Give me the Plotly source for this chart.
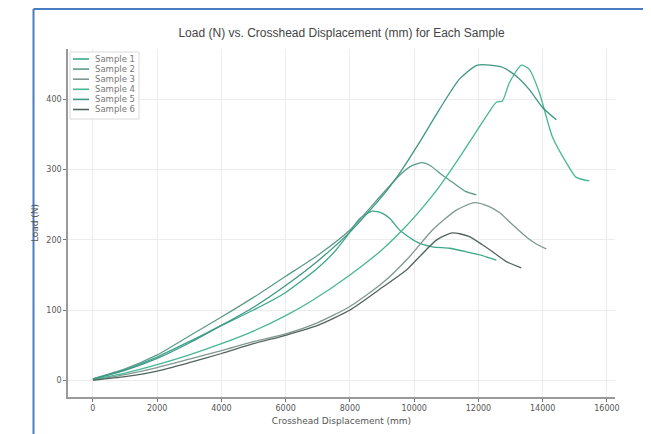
import plotly.graph_objects as go

# ---- data (displacement in mm, load in N) ----
s1_x = [0, 1000, 2000, 3000, 4000, 5000, 6000, 7000, 7500, 7900, 8300, 8700, 9000, 9250, 9543, 10072, 10569, 11097, 11626, 12100, 12558]
s1_y = [1, 15, 33, 55, 78, 100, 125, 160, 182, 205, 230, 241, 238, 230, 214, 197, 190, 188, 183, 178, 171]

s2_x = [0, 1000, 2000, 3000, 4000, 5000, 6000, 7000, 8000, 9000, 9500, 9900, 10250, 10500, 10850, 11191, 11600, 11937]
s2_y = [2, 16, 36, 63, 90, 118, 148, 178, 214, 265, 290, 305, 310, 306, 293, 282, 269, 264]

s3_x = [0, 1000, 2000, 3000, 4000, 5000, 6000, 7000, 8000, 9000, 9854, 10569, 11300, 11874, 12300, 12652, 13100, 13490, 13800, 14112]
s3_y = [0, 8, 18, 30, 42, 55, 66, 82, 105, 138, 176, 214, 242, 253, 248, 239, 220, 204, 194, 187]

s4_x = [0, 1000, 2000, 3000, 4000, 5000, 6000, 6839, 8000, 9000, 9760, 10300, 10800, 11300, 11800, 12300, 12558, 12745, 12963, 13335, 13584, 13895, 14300, 14735, 15045, 15449]
s4_y = [1, 10, 22, 36, 52, 70, 92, 114, 150, 186, 220, 248, 277, 310, 345, 380, 396, 398, 424, 449, 443, 410, 347, 310, 289, 284]

s5_x = [0, 1000, 2000, 3000, 4000, 5000, 6000, 7000, 8000, 9000, 9500, 10165, 10787, 11408, 11967, 12745, 13180, 13584, 13988, 14424]
s5_y = [2, 14, 31, 53, 78, 104, 135, 170, 211, 262, 292, 339, 386, 429, 449, 446, 433, 414, 389, 371]

s6_x = [0, 1000, 2000, 3000, 4000, 5000, 6000, 7000, 8000, 9000, 9760, 10165, 10700, 11191, 11700, 12123, 12500, 12870, 13335]
s6_y = [0, 5, 13, 25, 38, 52, 64, 78, 100, 132, 157, 176, 200, 210, 205, 193, 181, 169, 160]

names = ["Sample 1", "Sample 2", "Sample 3", "Sample 4", "Sample 5", "Sample 6"]
colors = ["#3aa78b", "#5e9c8b", "#7f9891", "#47b795", "#3f9683", "#52645d"]
xs = [s1_x, s2_x, s3_x, s4_x, s5_x, s6_x]
ys = [s1_y, s2_y, s3_y, s4_y, s5_y, s6_y]

x_ticks = [0, 2000, 4000, 6000, 8000, 10000, 12000, 14000, 16000]
y_ticks = [0, 100, 200, 300, 400]

# The page body has an 8px margin, so the figure is drawn at (8, 8).
OFF = 8
FW, FH = 651 - OFF, 434 - OFF
# plot area in reference-screen pixels
L, R, T, B = 68, 615, 49, 397
W, H = R - L, B - T


def px(xp):
    return (xp - L) / W


def py(yp):
    return (B - yp) / H


fig = go.Figure()
for n, c, x, y in zip(names, colors, xs, ys):
    fig.add_trace(go.Scatter(x=x, y=y, mode="lines", name=n,
                             line=dict(color=c, width=1.3, shape="spline", smoothing=0.6),
                             showlegend=False))

axis_common = dict(
    showline=True, linecolor="#999999", linewidth=1.5,
    ticks="outside", ticklen=3, tickcolor="#777777",
    showgrid=True, gridcolor="#ececec", gridwidth=1,
    zeroline=False, mirror=False,
    tickfont=dict(family="DejaVu Sans", size=8, color="#555555"),
)

shapes = [
    dict(type="line", xref="paper", yref="paper",
         x0=px(33.5), x1=px(660), y0=py(9), y1=py(9),
         line=dict(color="#4a7cc4", width=2)),
    dict(type="line", xref="paper", yref="paper",
         x0=px(33.5), x1=px(33.5), y0=py(9), y1=py(440),
         line=dict(color="#4a7cc4", width=2)),
    # legend box
    dict(type="rect", xref="paper", yref="paper",
         x0=px(70), x1=px(139), y0=py(52), y1=py(119),
         line=dict(color="#dadada", width=1), fillcolor="white", layer="above"),
]
annotations = []
for i, (n, c) in enumerate(zip(names, colors)):
    yy = 59 + i * 10.1
    shapes.append(dict(type="line", xref="paper", yref="paper",
                       x0=px(73), x1=px(89), y0=py(yy), y1=py(yy),
                       line=dict(color=c, width=1.6), layer="above"))
    annotations.append(dict(xref="paper", yref="paper", x=px(93), y=py(yy),
                            xanchor="left", yanchor="middle", showarrow=False,
                            text=n, font=dict(family="DejaVu Sans", size=8.5, color="#777777")))

fig.update_layout(
    width=FW, height=FH,
    paper_bgcolor="white", plot_bgcolor="white",
    margin=dict(l=L - OFF, r=651 - R, t=T - OFF, b=434 - B, autoexpand=False),
    title=dict(text="Load (N) vs. Crosshead Displacement (mm) for Each Sample",
               x=(341.5 - OFF) / FW, xanchor="center", y=1 - (33 - OFF) / FH, yanchor="middle",
               font=dict(family="Liberation Sans", size=12, color="#444444")),
    xaxis=dict(range=[-775, 16250], tickvals=x_ticks, tickformat="d",
               title=dict(text="Crosshead Displacement (mm)", standoff=5,
                          font=dict(family="DejaVu Sans", size=9, color="#555555")),
               **axis_common),
    yaxis=dict(range=[-24, 472], tickvals=y_ticks, tickformat="d",
               title=dict(text="Load (N)", standoff=6,
                          font=dict(family="DejaVu Sans", size=9, color="#555555")),
               **axis_common),
    showlegend=False,
    shapes=shapes,
    annotations=annotations,
)

fig.write_html("out.html")
